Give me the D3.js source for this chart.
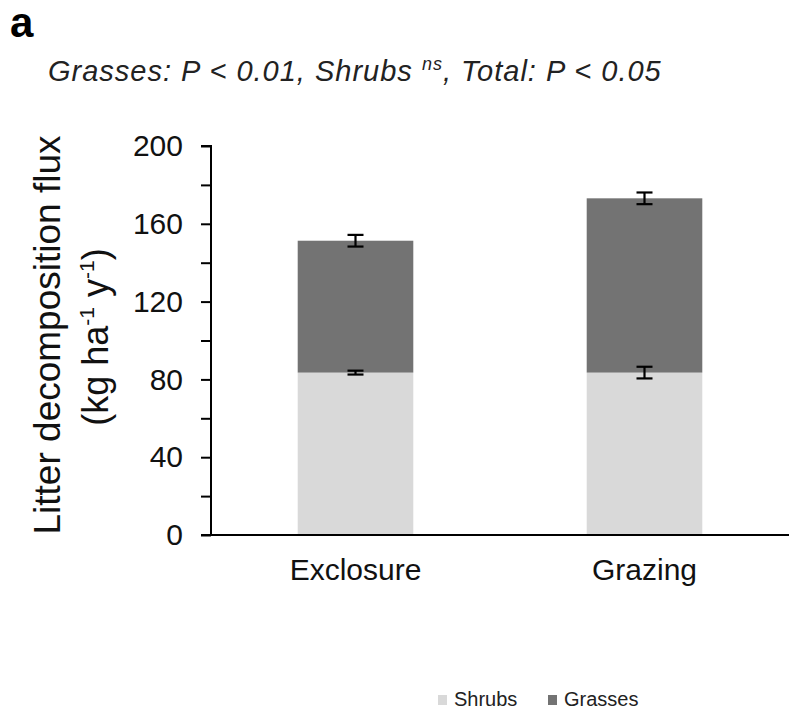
<!DOCTYPE html>
<html>
<head>
<meta charset="utf-8">
<script src="https://cdn.jsdelivr.net/npm/d3@7"></script>
<style>
  body { margin: 0; background: #fff; }
  text { font-family: "Liberation Sans", Arial, sans-serif; }
</style>
</head>
<body>
<div id="chart"></div>
<script>
// data
const categories = ["Exclosure", "Grazing"];
const shrubs = [83.5, 83.5];
const shrubsErr = [1, 3];
const grasses = [67.8, 89.6];
const totalErr = [3, 3];
const seriesNames = ["Shrubs", "Grasses"];
const yTicks = [0, 40, 80, 120, 160, 200];

const colors = { Shrubs: "#d9d9d9", Grasses: "#737373" };

const W = 790, H = 710;
const margin = { top: 146, right: 1, bottom: 175, left: 211 };
const width = W - margin.left - margin.right,
      height = H - margin.top - margin.bottom;

const svg = d3.select("#chart").append("svg")
    .attr("width", W).attr("height", H);

// panel letter + significance line
svg.append("text").attr("x", 10).attr("y", 37)
    .attr("font-size", 42).attr("font-weight", "bold").text("a");

const sub = svg.append("text").attr("x", 48).attr("y", 81)
    .attr("font-size", 29).attr("font-style", "italic").attr("fill", "#222")
    .attr("letter-spacing", 1);
sub.append("tspan").text("Grasses: P < 0.01, Shrubs ");
sub.append("tspan").attr("font-size", 18).attr("dy", -11).text("ns");
sub.append("tspan").attr("dy", 11).text(", Total: P < 0.05");

const g = svg.append("g").attr("transform", `translate(${margin.left},${margin.top})`);

const x = d3.scaleBand().domain(categories).range([0, width]).paddingInner(0.6).paddingOuter(0.3);
const y = d3.scaleLinear().domain([0, 200]).range([height, 0]);

const rows = categories.map((c, i) => ({ cat: c, Shrubs: shrubs[i], Grasses: grasses[i] }));
const stack = d3.stack().keys(seriesNames)(rows);

g.selectAll("g.layer").data(stack).join("g")
    .attr("class", "layer")
    .attr("fill", d => colors[d.key])
  .selectAll("rect").data(d => d).join("rect")
    .attr("x", d => x(d.data.cat))
    .attr("width", x.bandwidth())
    .attr("y", d => y(d[1]))
    .attr("height", d => y(d[0]) - y(d[1]));

// error bars
const errs = [];
categories.forEach((c, i) => {
  errs.push({ cat: c, v: shrubs[i], e: shrubsErr[i] });
  errs.push({ cat: c, v: shrubs[i] + grasses[i], e: totalErr[i] });
});
const capW = 8;
const cx = d => x(d.cat) + x.bandwidth() / 2;
const eg = g.selectAll("g.err").data(errs).join("g").attr("class", "err")
    .attr("stroke", "#000").attr("stroke-width", 2.2);
eg.append("line")
    .attr("x1", cx).attr("x2", cx)
    .attr("y1", d => y(d.v + d.e)).attr("y2", d => y(d.v - d.e));
eg.append("line")
    .attr("x1", d => cx(d) - capW).attr("x2", d => cx(d) + capW)
    .attr("y1", d => y(d.v + d.e)).attr("y2", d => y(d.v + d.e));
eg.append("line")
    .attr("x1", d => cx(d) - capW).attr("x2", d => cx(d) + capW)
    .attr("y1", d => y(d.v - d.e)).attr("y2", d => y(d.v - d.e));

// y axis: ticks every 20, labels every 40
const yAxis = g.append("g")
    .call(d3.axisLeft(y).tickValues(d3.range(0, 201, 20)).tickSize(10).tickPadding(18)
      .tickFormat(d => yTicks.includes(d) ? d : ""));
yAxis.selectAll("text").attr("font-size", 30).attr("fill", "#111")
    .style("font-family", "Liberation Sans, Arial, sans-serif");
yAxis.selectAll("line, path").attr("stroke", "#000").attr("stroke-width", 2);
yAxis.select(".domain").attr("d", `M-10,0H0V${height}`);

// x axis
const xAxis = g.append("g").attr("transform", `translate(0,${height})`)
    .call(d3.axisBottom(x).tickSize(0).tickPadding(24));
xAxis.select(".domain").attr("stroke", "#000").attr("stroke-width", 2.2).attr("d", `M-10,0H${width}`);
xAxis.selectAll("text").attr("font-size", 30).attr("fill", "#111")
    .style("font-family", "Liberation Sans, Arial, sans-serif");

// y title
svg.append("text").attr("transform", "translate(60,335) rotate(-90)")
    .attr("text-anchor", "middle").attr("font-size", 37).attr("fill", "#111")
    .text("Litter decomposition flux");
const yt2 = svg.append("text").attr("transform", "translate(108,337) rotate(-90)")
    .attr("text-anchor", "middle").attr("font-size", 36).attr("fill", "#111");
yt2.append("tspan").text("(kg ha");
yt2.append("tspan").attr("font-size", 21).attr("dy", -14).text("-1");
yt2.append("tspan").attr("dy", 14).text(" y");
yt2.append("tspan").attr("font-size", 21).attr("dy", -14).text("-1");
yt2.append("tspan").attr("dy", 14).text(")");

// legend
const legX = d3.scaleOrdinal().domain(seriesNames).range([438, 548]);
const leg = svg.selectAll("g.leg").data(seriesNames).join("g").attr("class", "leg")
    .attr("transform", d => `translate(${legX(d)},695)`);
leg.append("rect").attr("width", 9).attr("height", 10).attr("fill", d => colors[d]);
leg.append("text").attr("x", 16).attr("y", 11).attr("font-size", 20).attr("fill", "#222").text(d => d);
</script>
</body>
</html>
